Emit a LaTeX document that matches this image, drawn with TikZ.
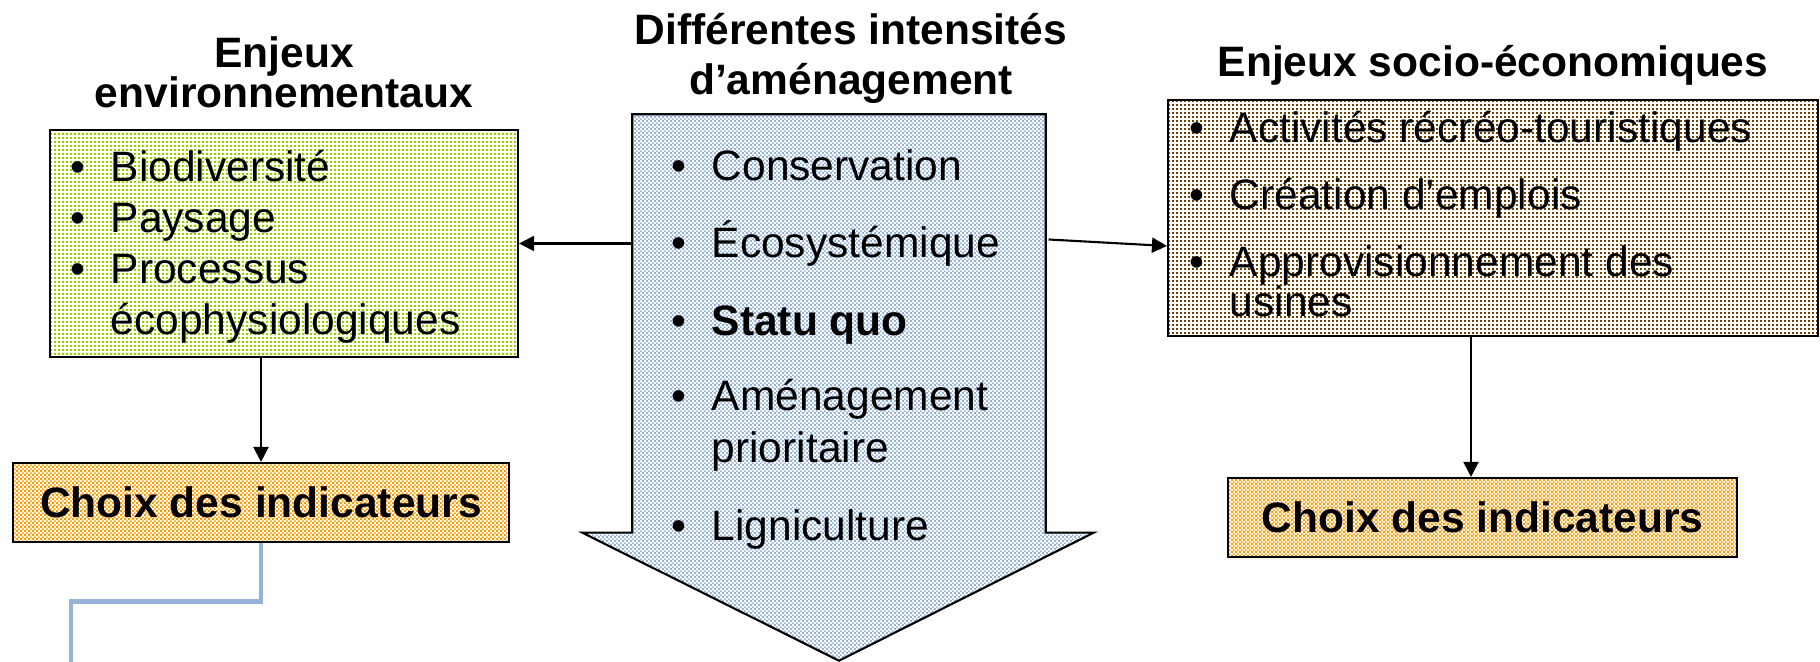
\documentclass[tikz,border=0pt]{standalone}
\usepackage{fontspec}
\setmainfont{Liberation Sans}
\usetikzlibrary{arrows.meta,patterns,calc}

\pgfdeclarepatternformonly{pptdots}{\pgfqpoint{0pt}{0pt}}{\pgfqpoint{1.2pt}{1.2pt}}{\pgfqpoint{1.2pt}{1.2pt}}{%
  \pgfpathrectangle{\pgfqpoint{0pt}{0pt}}{\pgfqpoint{0.7pt}{0.7pt}}\pgfusepath{fill}}
\pgfdeclarepatternformonly{pptsparse}{\pgfqpoint{0pt}{0pt}}{\pgfqpoint{1.2pt}{1.2pt}}{\pgfqpoint{1.2pt}{1.2pt}}{%
  \pgfpathrectangle{\pgfqpoint{0pt}{0pt}}{\pgfqpoint{0.6pt}{0.6pt}}\pgfusepath{fill}}
\pgfdeclarepatternformonly{pptcheck}{\pgfqpoint{0pt}{0pt}}{\pgfqpoint{1.2pt}{1.2pt}}{\pgfqpoint{1.2pt}{1.2pt}}{%
  \pgfpathrectangle{\pgfqpoint{0pt}{0pt}}{\pgfqpoint{0.6pt}{0.6pt}}%
  \pgfpathrectangle{\pgfqpoint{0.6pt}{0.6pt}}{\pgfqpoint{0.6pt}{0.6pt}}\pgfusepath{fill}}

\definecolor{envgreen}{RGB}{153,204,0}
\definecolor{sociobrown}{RGB}{110,65,0}
\definecolor{choiceorange}{RGB}{255,153,0}
\definecolor{hubblue}{RGB}{149,179,215}

\newcommand{\itm}{\llap{•\hspace{.25cm}}}

\begin{document}
\begin{tikzpicture}[font=\fontsize{12.1}{14.5}\selectfont,
    box/.style={draw, line width=0.6pt, inner sep=0pt},
    heading/.style={anchor=base, font=\fontsize{12.1}{14.5}\selectfont\bfseries},
    entry/.style={anchor=base west, inner sep=0pt},
    link/.style={-{Triangle[length=0.15cm,width=0.15cm]}, line width=0.6pt}]
    \useasboundingbox (0,0) rectangle (18.2,-6.62);

    % headings
    \node[heading] (envtitle1) at (2.84,-0.68) {Enjeux};
    \node[heading] (envtitle2) at (2.84,-1.08) {environnementaux};
    \node[heading] (hubtitle1) at (8.51,-0.45) {Différentes intensités};
    \node[heading] (hubtitle2) at (8.51,-0.95) {d’aménagement};
    \node[heading] (sociotitle) at (14.93,-0.77) {Enjeux socio-économiques};

    % boxes
    \node[box, pattern=pptdots, pattern color=envgreen, minimum width=4.68cm, minimum height=2.27cm] (envbox) at (2.84,-2.435) {};
    \node[box, pattern=pptsparse, pattern color=sociobrown, minimum width=6.50cm, minimum height=2.36cm] (socio) at (14.93,-2.18) {};
    \node[box, pattern=pptcheck, pattern color=choiceorange, minimum width=4.96cm, minimum height=0.79cm, font=\fontsize{12.1}{14.5}\selectfont\bfseries] (envchoice) at (2.61,-5.025) {Choix des indicateurs};
    \node[box, pattern=pptcheck, pattern color=choiceorange, minimum width=5.09cm, minimum height=0.79cm, font=\fontsize{12.1}{14.5}\selectfont\bfseries] (socchoice) at (14.825,-5.175) {Choix des indicateurs};

    % big arrow
    \node[minimum width=4.12cm, minimum height=4.17cm, inner sep=0pt] (hub) at (8.39,-3.235) {};
    \draw[line width=0.6pt, pattern=pptcheck, pattern color=hubblue] (hub.north west) -- (hub.north east) -- (hub.south east) -- ++(0.48,0) -- ($(hub.south)+(0,-1.28)$) -- ($(hub.south west)+(-0.50,0)$) -- (hub.south west) -- cycle;

    % lists
    \node[entry] (env1) at (1.10,-1.82) {\itm Biodiversité};
    \node[entry] (env2) at (1.10,-2.33) {\itm Paysage};
    \node[entry] (env3) at (1.10,-2.84) {\itm Processus};
    \node[entry] (env4) at (1.10,-3.35) {écophysiologiques};

    \node[entry] (hub1) at (7.11,-1.81) {\itm Conservation};
    \node[entry] (hub2) at (7.11,-2.58) {\itm Écosystémique};
    \node[entry] (hub3) at (7.11,-3.36) {\itm \textbf{Statu quo}};
    \node[entry] (hub4) at (7.11,-4.11) {\itm Aménagement};
    \node[entry] (hub5) at (7.11,-4.63) {prioritaire};
    \node[entry] (hub6) at (7.11,-5.41) {\itm Ligniculture};

    \node[entry] (socio1) at (12.29,-1.43) {\itm Activités récréo-touristiques};
    \node[entry] (socio2) at (12.29,-2.10) {\itm Création d’emplois};
    \node[entry] (socio3) at (12.29,-2.77) {\itm Approvisionnement des};
    \node[entry] (socio4) at (12.29,-3.17) {usines};

    % connectors
    \draw[link] (hub.west |- envbox.east) -- (envbox.east);
    \draw[link] ($(hub.east |- envbox.east)+(0.03,0.04)$) -- ($(socio.west)+(0,-0.28)$);
    \draw[link] (envbox.south -| envchoice.north) -- (envchoice.north);
    \draw[link] ($(socio.south)+(-0.22,0)$) -- ($(socio.south |- socchoice.north)+(-0.22,0)$);

    \coordinate (blueend) at (0.71,-6.62);
    \draw[draw=hubblue, line width=1.4pt] (envchoice.south) -- ++(0,-0.58) -| (blueend);
\end{tikzpicture}
\end{document}
